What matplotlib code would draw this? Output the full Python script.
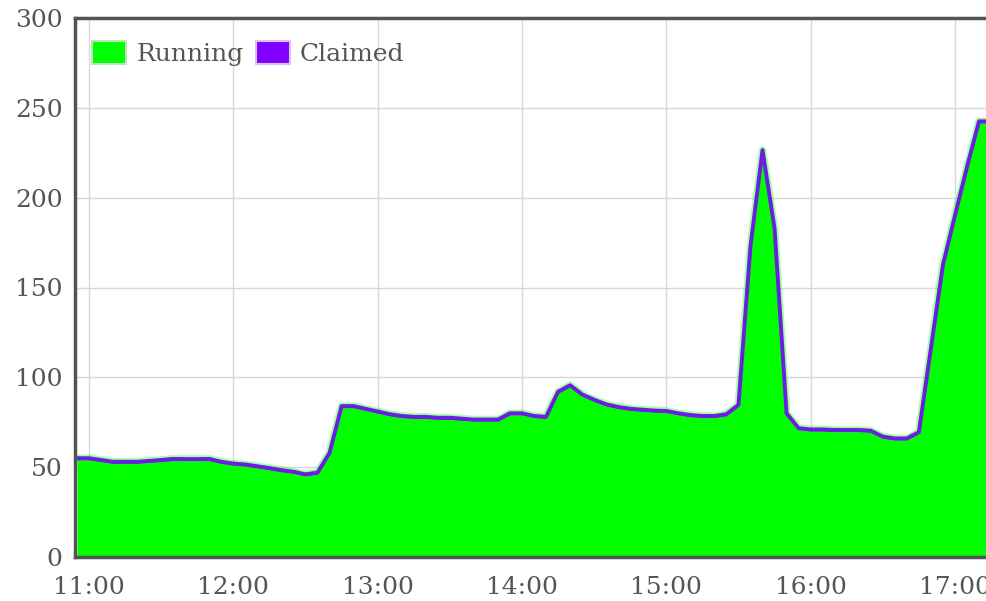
import matplotlib
matplotlib.use("Agg")
import matplotlib.pyplot as plt
import matplotlib.dates as mdates
from matplotlib.patches import Patch
import pandas as pd

# ---- data (5-minute samples starting 10:55) ----
start_time = "2024-01-01 10:55"
running = [54, 54, 53, 52, 52, 52, 52.5, 53, 53.6, 53.5, 53.5, 53.6, 52, 51, 50.5, 49.5,
           48.5, 47.3, 46.5, 45, 46, 57, 83, 83, 81.5, 80, 78.5, 77.5, 77, 77, 76.5, 76.5,
           76, 75.5, 75.5, 75.5, 79, 79, 77.5, 77, 91, 94.6, 89.5, 86.5, 84, 82.5, 81.5, 81,
           80.5, 80.3, 79, 78, 77.5, 77.5, 78.5, 83.7, 172, 225.5, 182, 79, 70.7, 70, 70,
           69.7, 69.7, 69.7, 69.3, 66, 65, 65, 68.5, 115, 161.5, 189, 216, 241.5, 241.5]
claimed = [1, 1, 1, 1, 1, 1, 1, 1, 1, 1, 1, 1, 1, 1, 1, 1,
           1, 1, 1, 1, 1, 1, 1, 1, 1, 1, 1, 1, 1, 1, 1, 1,
           1, 1, 1, 1, 1, 1, 1, 1, 1, 1, 1, 1, 1, 1, 1, 1,
           1, 1, 1, 1, 1, 1, 1, 1, 1, 1, 1, 1, 1, 1, 1,
           1, 1, 1, 1, 1, 1, 1, 1, 1, 1, 1, 1, 1, 1]
series_names = ["Running", "Claimed"]
y_ticks = [0, 50, 100, 150, 200, 250, 300]
x_tick_hours = ["11:00", "12:00", "13:00", "14:00", "15:00", "16:00", "17:00"]

times = pd.date_range(start_time, periods=len(running), freq="5min")
top = [r + c for r, c in zip(running, claimed)]

green = "#00ff00"
purple = "#7f00ff"
text_col = "#555555"

plt.rcParams["font.family"] = ["DejaVu Serif"]

fig = plt.figure(figsize=(9.87, 6.01), dpi=100)
ax = fig.add_axes([75 / 987, 44 / 601, 912 / 987, 539 / 601])

ax.fill_between(times, 0, running, color=green, lw=0, zorder=2)
ax.fill_between(times, running, top, color=purple, lw=0, zorder=2)
ax.plot(times, top, color=green, lw=5.5, alpha=0.35, zorder=3, solid_joinstyle="round")
ax.plot(times, top, color="#6a1ee0", lw=2.8, zorder=4, solid_joinstyle="round")

ax.set_ylim(0, 300)
ax.set_yticks(y_ticks)
x0 = pd.Timestamp("2024-01-01 10:54:10")
x1 = pd.Timestamp("2024-01-01 17:13:20")
ax.set_xlim(x0, x1)
ax.set_xticks([pd.Timestamp("2024-01-01 " + h) for h in x_tick_hours])
ax.xaxis.set_major_formatter(mdates.DateFormatter("%H:%M"))

ax.grid(True, color="#d8d8d8", lw=1, zorder=0)
ax.set_axisbelow(True)

for s in ["left", "bottom", "top"]:
    ax.spines[s].set_color("#545454")
    ax.spines[s].set_linewidth(2.5)
    ax.spines[s].set_zorder(6)
ax.spines["right"].set_visible(False)

ax.tick_params(axis="both", length=0, labelsize=18, colors=text_col)
ax.tick_params(axis="y", pad=9)
ax.tick_params(axis="x", pad=14)

handles = [Patch(facecolor=green, edgecolor="#b8e8b8", lw=1.5),
           Patch(facecolor=purple, edgecolor="#dcc0f0", lw=1.5)]
leg = ax.legend(handles, series_names, loc="upper left", ncol=2,
                bbox_to_anchor=(0.019, 0.958), borderaxespad=0, borderpad=0,
                frameon=False, fontsize=18, handlelength=1.36, handleheight=1.08,
                handletextpad=0.4, columnspacing=0.48, labelcolor=text_col)

fig.savefig("out.png", dpi=100)
